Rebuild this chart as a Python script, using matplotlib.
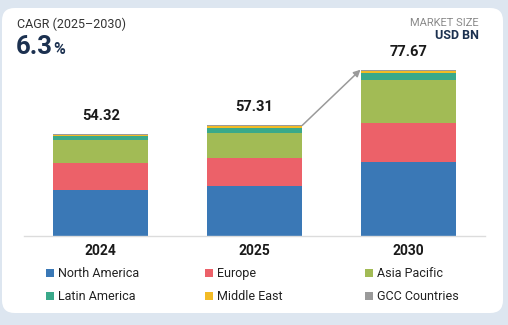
import matplotlib
matplotlib.use('Agg')
import matplotlib.pyplot as plt
import numpy as np
from matplotlib.patches import FancyBboxPatch, Patch

plt.rcParams['font.family'] = ['Roboto', 'DejaVu Sans']

years = ['2024', '2025', '2030']
totals = [54.32, 57.31, 77.67]
regions = ['North America', 'Europe', 'Asia Pacific',
           'Latin America', 'Middle East', 'GCC Countries']
north_america = [33.9, 35.1, 44.0]
europe = [9.8, 10.5, 14.3]
asia_pacific = [8.5, 9.1, 15.7]
latin_america = [1.2, 1.7, 2.6]
middle_east = [0.55, 0.55, 0.65]
gcc_countries = [0.37, 0.36, 0.42]
colors = ['#3a78b6', '#ec6169', '#a2bb55', '#3aa98a', '#f3bb25', '#9a9a9a']

W, H = 508, 325
fig = plt.figure(figsize=(W / 100, H / 100), dpi=100)
fig.patch.set_facecolor('#dde6f0')

# white rounded card behind everything
card = FancyBboxPatch((2 / W, 12 / H), 501 / W, 305 / H,
                      boxstyle='round,pad=0,rounding_size=0.025',
                      transform=fig.transFigure, facecolor='white',
                      edgecolor='none', mutation_aspect=W / H, zorder=-10)
fig.patches.append(card)

ax = fig.add_axes([24 / W, 89 / H, 461 / W, 196 / H])
ax.set_facecolor('none')
x = np.arange(len(years))
series = [north_america, europe, asia_pacific, latin_america, middle_east, gcc_countries]
bottom = np.zeros(len(years))
for vals, c in zip(series, colors):
    ax.bar(x, vals, width=0.62, bottom=bottom, color=c, linewidth=0)
    bottom += np.array(vals)

for xi, t in zip(x, totals):
    ax.annotate('{:.2f}'.format(t), (xi, t), xytext=(0, 13), textcoords='offset points',
                ha='center', va='center', fontsize=10.5, fontweight='bold', color='#1a1a1a')

# growth arrow between 2025 and 2030
ax.annotate('', xy=(2 - 0.31, totals[2]), xytext=(1 + 0.31, totals[1]),
            arrowprops=dict(arrowstyle='-|>', color='#9a9a9a', lw=1.1,
                            mutation_scale=10, shrinkA=0, shrinkB=0))

ax.set_xlim(-0.5, 2.5)
ax.set_ylim(17, 88.5)
ax.set_xticks(x)
ax.set_xticklabels(years, fontsize=10, fontweight='bold', color='#1a1a1a')
ax.tick_params(axis='x', length=0, pad=6)
ax.set_yticks([])
for s in ['top', 'right', 'left']:
    ax.spines[s].set_visible(False)
ax.spines['bottom'].set_color('#dcdcdc')
ax.spines['bottom'].set_linewidth(1)

# legend, three columns laid out row by row
handles = [Patch(facecolor=c, edgecolor='none', label=r) for r, c in zip(regions, colors)]
col_x = [46, 205, 365]
for i, cx in enumerate(col_x):
    leg = fig.legend(handles=[handles[i], handles[i + 3]], loc='upper left',
                     bbox_to_anchor=(cx / W, 1 - 267 / H), frameon=False,
                     fontsize=9, handlelength=0.6, handleheight=0.6,
                     handletextpad=0.35, labelspacing=0.8, borderaxespad=0,
                     borderpad=0)
    for txt in leg.get_texts():
        txt.set_color('#222222')

fig.text(17 / W, 1 - 24.5 / H, 'CAGR (2025\u20132030)', fontsize=9, color='#333333',
         ha='left', va='center')
t63 = fig.text(16 / W, 1 - 53.5 / H, '6.3', fontsize=18.5, fontweight='bold', color='#1c3150',
               ha='left', va='baseline')
fig.canvas.draw()
bb = t63.get_window_extent()
fig.text((bb.x1 + 0.5) / W, 1 - 53.5 / H, '%', fontsize=11.5, fontweight='bold', color='#1c3150',
         ha='left', va='baseline')

fig.text(479 / W, 1 - 23.5 / H, 'MARKET SIZE', fontsize=8, color='#8a8a8a',
         ha='right', va='center')
fig.text(479 / W, 1 - 35.5 / H, 'USD BN', fontsize=9, fontweight='bold', color='#1c3150',
         ha='right', va='center')

fig.savefig('out.png', dpi=100, facecolor=fig.get_facecolor())
